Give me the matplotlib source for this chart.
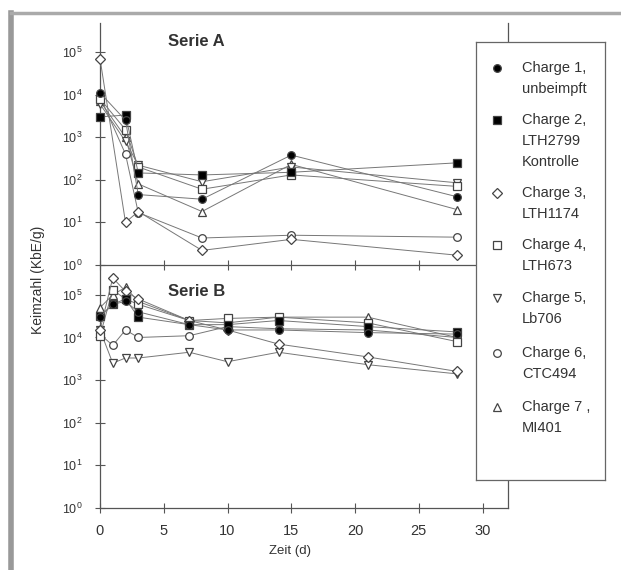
import numpy as np
import matplotlib
matplotlib.use("Agg")
import matplotlib.pyplot as plt
from matplotlib.lines import Line2D

plt.rcParams["font.family"] = ["Liberation Sans", "DejaVu Sans"]

# -----------------------------
# DATEN
# -----------------------------
days_a = [0, 2, 3, 8, 15, 28]
days_b = [0, 1, 2, 3, 7, 10, 14, 21, 28]

serie_a = {
    "c1": [1.1e4, 2.5e3, 45, 35, 380, 40],
    "c2": [3e3, 3.3e3, 145, 130, 150, 250],
    "c3": [7e4, 10, 18, 2.2, 4, 1.7],
    "c4": [8e3, 1.5e3, 200, 60, 130, 70],
    "c5": [6e3, 800, 220, 90, 200, 85],
    "c6": [9e3, 400, 17, 4.3, 5, 4.5],
    "c7": [7e3, 1e3, 80, 18, 230, 20],
}

serie_b = {
    "c1": [3e4, 6e4, 7e4, 4e4, 2e4, 1.5e4, 1.5e4, 1.3e4, 1.2e4],
    "c2": [3.2e4, 6e4, 8e4, 3e4, 2e4, 2e4, 2.5e4, 1.8e4, 1.35e4],
    "c3": [1.5e4, 2.5e5, 1.2e5, 8e4, 2.5e4, 1.5e4, 7e3, 3.5e3, 1.6e3],
    "c4": [1.1e4, 1.3e5, 8e4, 6e4, 2.5e4, 2.8e4, 3e4, 2.2e4, 8e3],
    "c5": [1.5e4, 2.5e3, 3.3e3, 3.3e3, 4.5e3, 2.7e3, 4.5e3, 2.3e3, 1.4e3],
    "c6": [1.2e4, 6.5e3, 1.5e4, 1e4, 1.1e4, 1.8e4, 1.6e4, 1.5e4, 1e4],
    "c7": [5e4, 1e5, 1.5e5, 7e4, 2.5e4, 2.2e4, 3e4, 3e4, 1e4],
}

legend_labels = {
    "c1": ["Charge 1,", "unbeimpft"],
    "c2": ["Charge 2,", "LTH2799", "Kontrolle"],
    "c3": ["Charge 3,", "LTH1174"],
    "c4": ["Charge 4,", "LTH673"],
    "c5": ["Charge 5,", "Lb706"],
    "c6": ["Charge 6,", "CTC494"],
    "c7": ["Charge 7 ,", "MI401"],
}

# Marker-Stil je Charge
styles = {
    "c1": dict(marker="o", mfc="black"),
    "c2": dict(marker="s", mfc="black"),
    "c3": dict(marker="D", mfc="white", ms=5),
    "c4": dict(marker="s", mfc="white"),
    "c5": dict(marker="v", mfc="white"),
    "c6": dict(marker="o", mfc="white"),
    "c7": dict(marker="^", mfc="white"),
}

LINE_COL = "#777777"
EDGE_COL = "#444444"
TEXT_COL = "#333333"

# -----------------------------
# FIGUR
# -----------------------------
W, H = 621, 570
fig = plt.figure(figsize=(W / 100, H / 100), dpi=100)

def fx(px):
    return px / W

def fy(py):
    return 1 - py / H

ax_left = fx(100)
ax_w = fx(508) - fx(100)
ax_a = fig.add_axes([ax_left, fy(265), ax_w, fy(23) - fy(265)])
ax_b = fig.add_axes([ax_left, fy(508), ax_w, fy(265) - fy(508)])

for ax, days, data in ((ax_a, days_a, serie_a), (ax_b, days_b, serie_b)):
    ax.patch.set_alpha(0)
    for key in ["c7", "c6", "c5", "c4", "c3", "c2", "c1"]:
        st = dict(ms=5.5)
        st.update(styles[key])
        ax.plot(days, data[key], color=LINE_COL, lw=0.7,
                mec=EDGE_COL, mew=0.9, clip_on=False, zorder=3, **st)
    ax.set_yscale("log")
    ax.set_xlim(0, 32)
    ax.set_xticks([0, 5, 10, 15, 20, 25, 30])
    ax.set_yticks([1, 10, 100, 1e3, 1e4, 1e5])
    ax.minorticks_off()
    ax.tick_params(axis="both", direction="inout", length=7, width=0.8,
                   color="#555555", labelcolor=TEXT_COL, labelsize=9)
    ax.tick_params(axis="y", pad=9)
    for s in ax.spines.values():
        s.set_color("#555555")
        s.set_linewidth(0.9)
    ax.spines["top"].set_visible(False)

ax_a.set_ylim(1, 10 ** 5.68)
ax_b.set_ylim(1, 10 ** 5.70)
ax_a.tick_params(axis="x", labelbottom=False)
ax_b.tick_params(axis="x", labelsize=10.5, pad=8)

ax_a.text(fx(168) , fy(42), "Serie A", transform=fig.transFigure,
          fontsize=12, fontweight="bold", color=TEXT_COL,
          ha="left", va="center")
ax_b.text(fx(168), fy(292), "Serie B", transform=fig.transFigure,
          fontsize=12, fontweight="bold", color=TEXT_COL,
          ha="left", va="center")

fig.text(fx(290), fy(551), "Zeit (d)", fontsize=9.5, color=TEXT_COL,
         ha="center", va="center")
fig.text(fx(38), fy(280), "Keimzahl (KbE/g)", fontsize=10, color=TEXT_COL,
         rotation=90, ha="center", va="center")

# -----------------------------
# LEGENDE (eigene Achse)
# -----------------------------
leg = fig.add_axes([fx(476), fy(480), fx(605) - fx(476), fy(42) - fy(480)])
leg.set_xlim(476, 605)
leg.set_ylim(480, 42)
leg.set_xticks([])
leg.set_yticks([])
leg.set_facecolor("white")
for s in leg.spines.values():
    s.set_color("#666666")
    s.set_linewidth(0.9)

entry_y = {"c1": 68, "c2": 120, "c3": 193, "c4": 245, "c5": 298,
           "c6": 353, "c7": 407}
line_gap = 21
for key, y0 in entry_y.items():
    st = dict(ms=5.5)
    st.update(styles[key])
    leg.plot([497], [y0], ls="none", mec=EDGE_COL, mew=0.9, **st)
    for i, txt in enumerate(legend_labels[key]):
        leg.text(522, y0 + i * line_gap, txt, fontsize=10.5, color=TEXT_COL,
                 ha="left", va="center")

# grauer Scan-Rahmen
fig.add_artist(Line2D([fx(11), fx(11)], [0, fy(13)], color="#999999", lw=4))
fig.add_artist(Line2D([fx(11), 1], [fy(13), fy(13)], color="#aaaaaa", lw=2.5))

fig.savefig("out.png", dpi=100)
